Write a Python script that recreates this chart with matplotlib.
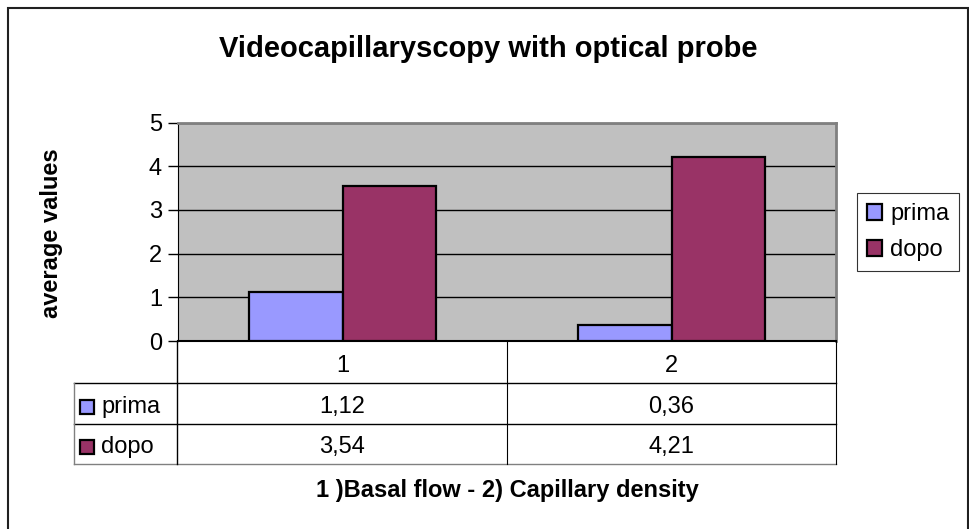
import matplotlib
matplotlib.use("Agg")
import matplotlib.pyplot as plt
import numpy as np
from matplotlib.lines import Line2D
from matplotlib.patches import Rectangle, Patch
from matplotlib.transforms import blended_transform_factory

# Dati
categorie = ['1', '2']
serie = ['prima', 'dopo']
prima = [1.12, 0.36]
dopo = [3.54, 4.21]
y_ticks = [0, 1, 2, 3, 4, 5]

colori = {'prima': '#9999FF', 'dopo': '#993366'}

W, H = 969, 529
FS = 17
plt.rcParams['font.family'] = ['Liberation Sans', 'DejaVu Sans']

fig = plt.figure(figsize=(W / 100, H / 100), dpi=100)


def fx(px):
    return px / W


def fy(py):
    return 1 - py / H


# area del grafico (pixel)
L, R, T, B = 178, 836, 122.5, 341
ax = fig.add_axes([fx(L), fy(B), fx(R - L), (B - T) / H])
ax.set_facecolor('#C0C0C0')

x = np.arange(len(categorie))
larg = 0.283
ax.bar(x - larg / 2, prima, width=larg, color=colori['prima'],
       edgecolor='black', linewidth=1.6, zorder=3)
ax.bar(x + larg / 2, dopo, width=larg, color=colori['dopo'],
       edgecolor='black', linewidth=1.6, zorder=3)

ax.set_xlim(-0.5, len(categorie) - 0.5)
ax.set_ylim(0, 5)
ax.set_yticks(y_ticks)
ax.set_yticklabels([str(t) for t in y_ticks], fontsize=FS)
ax.set_xticks([])
ax.grid(axis='y', color='black', linewidth=1, zorder=1)
ax.tick_params(axis='y', length=7, width=1, color='black', pad=4.5)
for s in ['top', 'right']:
    ax.spines[s].set_color('#808080')
    ax.spines[s].set_linewidth(2)
ax.spines['left'].set_color('black')
ax.spines['bottom'].set_color('black')
ax.spines['bottom'].set_linewidth(1.5)

# etichetta asse y
fig.text(fx(52), fy(233), 'average values', rotation=90, ha='center', va='center',
         fontsize=FS, fontweight='bold')

# titolo
fig.text(fx(488), fy(57), 'Videocapillaryscopy with optical probe',
         ha='center', va='baseline', fontsize=21, fontweight='bold')

# tabella dati
righe = [341, 383, 424, 464]
x_leg = 74
linee = []
for yy in righe[1:]:
    c = '#808080' if yy == righe[-1] else 'black'
    linee.append(Line2D([fx(x_leg), fx(R)], [fy(yy), fy(yy)], color=c, lw=1))
linee.append(Line2D([fx(L - 1), fx(L - 1)], [fy(B), fy(464)], color='black', lw=1))
linee.append(Line2D([fx(x_leg), fx(x_leg)], [fy(383), fy(464)], color='#808080', lw=1))
linee.append(Line2D([fx((L + R) / 2), fx((L + R) / 2)], [fy(B), fy(464)], color='black', lw=0.8))
linee.append(Line2D([fx(R), fx(R)], [fy(B), fy(464)], color='black', lw=0.8))
for ln in linee:
    fig.add_artist(ln)

tr = blended_transform_factory(ax.transData, fig.transFigure)
for i, cat in enumerate(categorie):
    fig.text(x[i], fy(372), cat, transform=tr,
             ha='center', va='baseline', fontsize=FS)
valori = [prima, dopo]
for r, nome in enumerate(serie):
    base = righe[r + 2] - 11
    for i in range(len(categorie)):
        fig.text(x[i], fy(base), f'{valori[r][i]:.2f}'.replace('.', ','), transform=tr,
                 ha='center', va='baseline', fontsize=FS)
    fig.add_artist(Rectangle((fx(80), fy(base + 1)), 14 / W, 14 / H,
                             transform=fig.transFigure, facecolor=colori[nome],
                             edgecolor='black', lw=1.6))
    fig.text(fx(101), fy(base), nome, ha='left', va='baseline', fontsize=FS)

# titolo asse x
fig.text(fx(507), fy(497), '1 )Basal flow - 2) Capillary density',
         ha='center', va='baseline', fontsize=FS, fontweight='bold')

# legenda
maniglie = [Patch(facecolor=colori[s], edgecolor='black', linewidth=1.6, label=s) for s in serie]
leg = fig.legend(handles=maniglie, loc='center left',
                 bbox_to_anchor=(fx(857), fy(232)), fontsize=FS, frameon=True,
                 fancybox=False, edgecolor='black', handlelength=0.65, handleheight=0.65,
                 handletextpad=0.34, borderpad=0.42, labelspacing=0.6, borderaxespad=0)
leg.get_frame().set_linewidth(0.8)

# bordo esterno (il lato inferiore esce dall'immagine)
fig.add_artist(Rectangle((fx(8), -0.05), fx(959.5), 1.05 - 8 / H, transform=fig.transFigure,
                         fill=False, edgecolor='#202020', lw=1.5, clip_on=False))

fig.savefig('out.png', dpi=100)
